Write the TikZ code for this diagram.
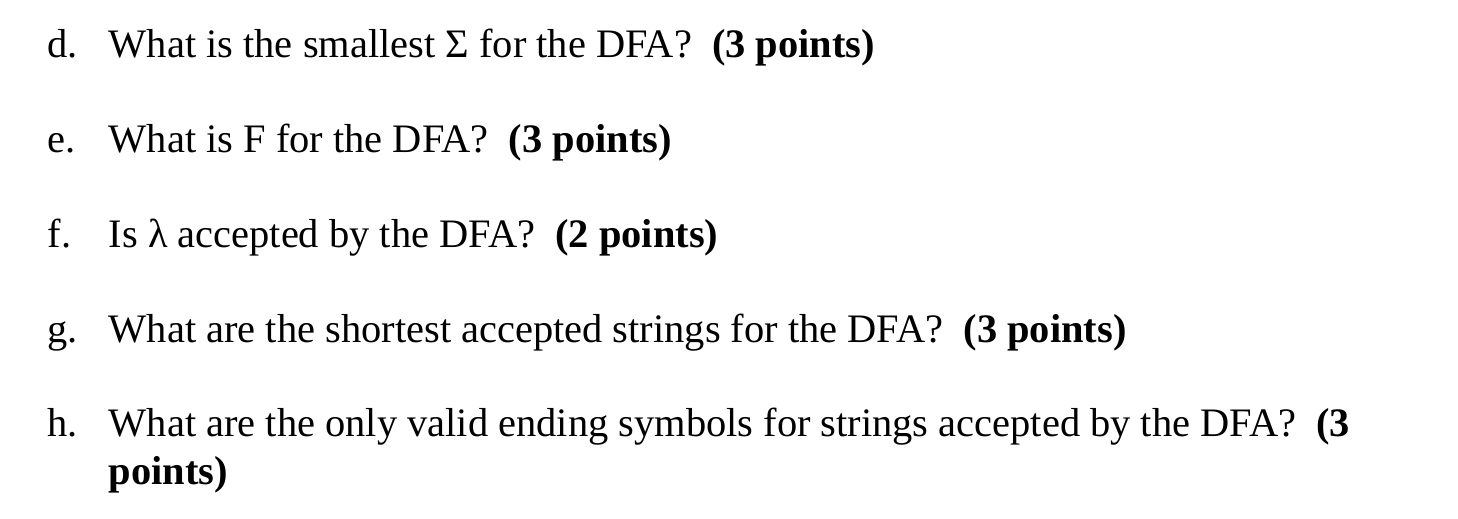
\documentclass[tikz,border=0pt]{standalone}
\usepackage{fontspec}
\setmainfont{Liberation Serif}
\begin{document}
\begin{tikzpicture}[x=0.01cm,y=-0.01cm,
  lbl/.style={anchor=base west,inner sep=0pt,font=\fontsize{11.5}{14}\selectfont},
  txt/.style={anchor=base west,inner sep=0pt,font=\fontsize{11.5}{14}\selectfont}]
\useasboundingbox (0,0) rectangle (1458,519);
\node[lbl] (ld) at (47,58) {d.};
\node[txt] (td) at (108,58) {What is the smallest Σ for the DFA?\enspace \textbf{(3 points)}};
\node[lbl] (le) at (47,153) {e.};
\node[txt] (te) at (108,153) {What is F for the DFA?\enspace \textbf{(3 points)}};
\node[lbl] (lf) at (47,248) {f.};
\node[txt] (tf) at (108,248) {Is λ accepted by the DFA?\enspace \textbf{(2 points)}};
\node[lbl] (lg) at (47,343) {g.};
\node[txt] (tg) at (108,343) {What are the shortest accepted strings for the DFA?\enspace \textbf{(3 points)}};
\node[lbl] (lh) at (47,437) {h.};
\node[txt] (th) at (108,437) {What are the only valid ending symbols for strings accepted by the DFA?\enspace \textbf{(3}};
\node[txt] (th2) at (108,485) {\textbf{points)}};
\end{tikzpicture}
\end{document}
